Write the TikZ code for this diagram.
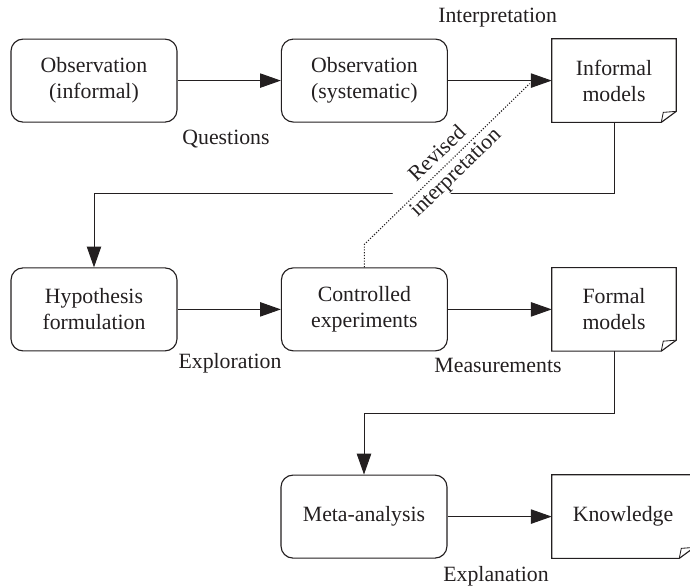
\documentclass[tikz,border=0pt]{standalone}
\usepackage{fontspec}
\setmainfont{Liberation Serif}
\usetikzlibrary{arrows.meta}

\definecolor{ink}{HTML}{231F20}

% page outline with a turned-up lower right corner
\newcommand{\docframe}[1]{%
    \draw[line width=0.8pt, ink] (#1.north west) -- (#1.north east)
        -- ([yshift=0.275cm]#1.south east) -- ([xshift=-0.375cm]#1.south east)
        -- (#1.south west) -- cycle;
    \draw[line width=0.6pt, ink] ([yshift=0.275cm]#1.south east)
        -- ([xshift=-0.325cm,yshift=0.25cm]#1.south east)
        -- ([xshift=-0.375cm]#1.south east);
}

\begin{document}
\begin{tikzpicture}[
        every node/.style={font=\fontsize{15.5}{18.5}\selectfont, text=ink},
        stage/.style={draw=ink, line width=0.8pt, rounded corners=0.3cm,
            minimum width=4.15cm, minimum height=2.075cm, align=center},
        doc/.style={minimum width=3.1cm, minimum height=2.075cm, align=center},
        flow/.style={draw=ink, line width=0.7pt,
            -{Triangle[length=0.52cm,width=0.36cm]}}
    ]
        \useasboundingbox (0,0) rectangle (17.25,14.675);

        % Top row
        \node[stage] (obsinf) at (2.35,12.66) {Observation\\(informal)};
        \node[stage] (obssys) at (9.11,12.66) {Observation\\(systematic)};
        \node[doc] (informal) at (15.35,12.66) {Informal\\models};
        \docframe{informal}

        % Middle row
        \node[stage] (hypo) at (2.35,6.94) {Hypothesis\\formulation};
        \node[stage] (ctrl) at (9.11,6.94) {Controlled\\experiments};
        \node[doc] (formal) at (15.35,6.94) {Formal\\models};
        \docframe{formal}

        % Bottom row
        \node[stage] (meta) at (9.1,1.76) {Meta-analysis};
        \node[doc, minimum width=3.55cm] (know) at (15.575,1.76) {Knowledge};
        \docframe{know}

        % Arrows along the rows
        \draw[flow] (obsinf) -- (obssys);
        \draw[flow] (obssys) -- (informal);
        \draw[flow] (hypo) -- (ctrl);
        \draw[flow] (ctrl) -- (formal);
        \draw[flow] (meta) -- (know);

        % Arrows back to the next row
        \draw[flow] (informal.south) -- ++(0,-1.775) -| (hypo.north);
        \draw[flow] (formal.south) -- ++(0,-1.55) -| (meta.north);

        % Arrow labels
        \node (interp) at (12.44,14.24) {Interpretation};
        \node (quest) at (5.65,11.2) {Questions};
        \node (explor) at (5.75,5.59) {Exploration};
        \node (measure) at (12.45,5.55) {Measurements};
        \node (explain) at (12.4,0.27) {Explanation};

        % Dotted feedback from the experiments
        \coordinate (bend) at ([yshift=0.575cm]ctrl.north);
        \coordinate (revtip) at ([xshift=-0.55cm,yshift=-0.075cm]informal.west);
        \path (bend) -- (revtip) node[midway, sloped, fill=white, inner sep=0.5pt,
            align=center] (revlabel) {Revised\\interpretation};
        \draw[ink, line width=0.8pt, dash pattern=on 0.8pt off 1.2pt]
            (ctrl.north) -- (bend) -- (revtip);
    \end{tikzpicture}
\end{document}
